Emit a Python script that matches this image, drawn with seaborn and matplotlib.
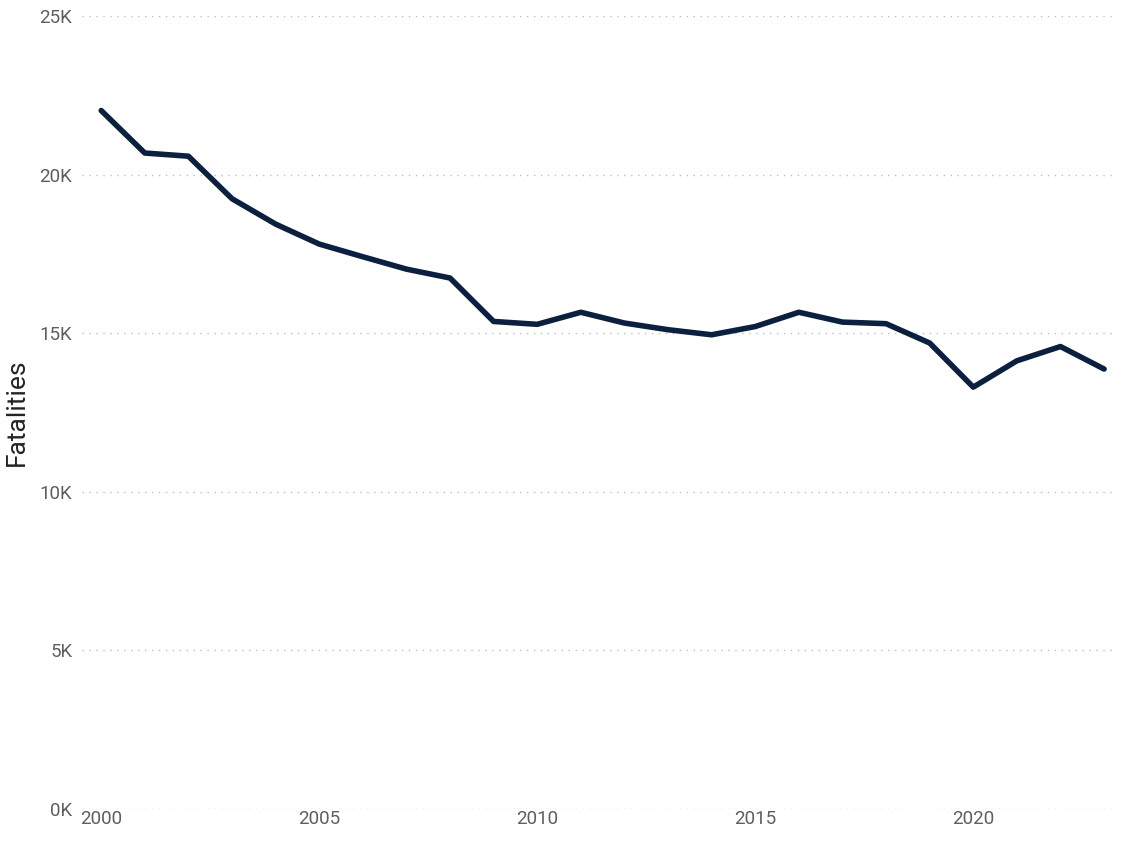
import matplotlib
matplotlib.use("Agg")
import matplotlib.pyplot as plt
import matplotlib.ticker as mticker
import pandas as pd
import seaborn as sb

# Données
annees = list(range(2000, 2024))
deces = [22020, 20680, 20580, 19240, 18440, 17810, 17410, 17020, 16740,
         15370, 15280, 15660, 15320, 15110, 14950, 15210, 15660, 15350,
         15300, 14690, 13300, 14130, 14580, 13870]
y_ticks = [0, 5000, 10000, 15000, 20000, 25000]
x_ticks = [2000, 2005, 2010, 2015, 2020]

df = pd.DataFrame({"Year": annees, "Fatalities": deces})

sb.set_style("white")
plt.rcParams["font.family"] = ["Roboto", "DejaVu Sans"]

fig = plt.figure(figsize=(11.24, 8.41), dpi=100)
ax = fig.add_axes([82 / 1124, 1 - 809 / 841, (1115 - 82) / 1124, (809 - 16) / 841])

sb.lineplot(data=df, x="Year", y="Fatalities", ax=ax, color="#0B1F3F",
            linewidth=4.0, solid_capstyle="round", solid_joinstyle="round")

ax.set_xlim(1999.56, 2023.25)
ax.set_ylim(0, 25000)
ax.set_yticks(y_ticks)
ax.set_xticks(x_ticks)
ax.yaxis.set_major_formatter(mticker.FuncFormatter(lambda v, p: f"{int(v / 1000)}K"))
ax.grid(axis="y", color="#BEBEBE", linestyle=(0, (1, 4)), linewidth=1.0)
ax.set_axisbelow(True)
for s in ax.spines.values():
    s.set_visible(False)

ax.tick_params(axis="both", length=0, labelsize=13.5, labelcolor="#605E5C")
ax.tick_params(axis="y", pad=7)
ax.tick_params(axis="x", pad=1)
ax.set_xlabel("")
ax.set_ylabel("Fatalities", fontsize=19, color="#252423", labelpad=8)

fig.savefig("out.png", dpi=100)
